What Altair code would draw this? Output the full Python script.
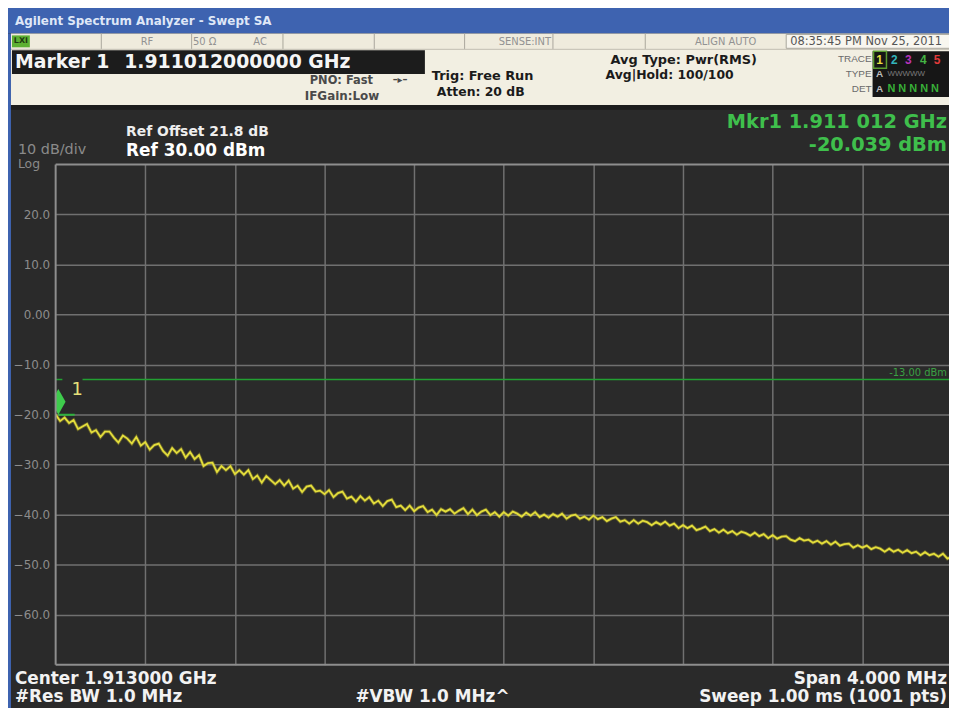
import altair as alt
import pandas as pd

# ---------------- data ----------------
# trace, every 0.02 MHz from 1911.000 to 1915.000 MHz (dBm)
trace_dbm = [
    -20.0, -21.3, -20.6, -21.7, -21.1, -22.9, -22.4, -21.9, -23.6, -23.1,
    -24.5, -23.4, -23.4, -24.6, -25.6, -24.2, -24.8, -25.8, -24.5, -26.2,
    -25.5, -27.0, -26.1, -25.8, -27.3, -28.2, -26.7, -27.7, -26.9, -28.6,
    -27.5, -28.9, -28.1, -30.3, -29.7, -29.6, -31.5, -30.3, -31.1, -30.3,
    -31.9, -31.1, -32.0, -31.1, -32.9, -32.2, -33.6, -32.3, -33.1, -33.9,
    -33.1, -34.2, -33.2, -34.8, -34.2, -35.5, -34.4, -34.2, -35.4, -35.2,
    -35.9, -35.1, -36.5, -35.7, -35.4, -36.8, -36.4, -37.4, -36.3, -37.2,
    -36.5, -37.8, -37.2, -38.3, -37.3, -37.0, -38.5, -38.2, -39.1, -38.2,
    -39.3, -38.6, -38.3, -39.5, -39.0, -40.1, -38.9, -39.4, -38.9, -39.8,
    -39.2, -38.7, -39.9, -39.0, -40.1, -39.4, -39.0, -40.1, -39.5, -40.4,
    -39.5, -40.2, -39.4, -39.8, -40.4, -39.6, -40.2, -39.5, -40.5, -40.0,
    -40.6, -39.9, -40.4, -39.8, -40.8, -40.2, -40.0, -40.8, -40.4, -41.0,
    -40.2, -40.9, -40.5, -41.3, -40.8, -40.5, -41.4, -41.1, -41.8, -41.1,
    -41.8, -41.2, -41.5, -42.1, -41.5, -42.0, -41.4, -42.2, -41.8, -42.7,
    -42.1, -42.7, -42.2, -43.1, -42.8, -42.4, -43.3, -42.9, -43.6, -43.0,
    -43.7, -43.3, -44.0, -43.4, -43.7, -44.2, -43.6, -44.3, -43.9, -44.7,
    -44.1, -44.8, -44.4, -44.3, -45.0, -45.3, -44.7, -45.2, -45.0, -45.6,
    -45.2, -45.8, -45.3, -46.0, -45.4, -46.2, -45.9, -45.8, -46.6, -46.1,
    -46.6, -46.2, -46.9, -46.5, -46.8, -47.4, -46.8, -47.4, -47.0, -47.6,
    -47.1, -47.7, -47.4, -48.1, -47.5, -48.1, -47.8, -48.4, -47.8, -48.8,
    -48.4,
]
start_mhz = 1911.0
step_mhz = 0.02
freq_mhz = [round(start_mhz + step_mhz * i, 3) for i in range(len(trace_dbm))]

y_ticks = [20, 10, 0, -10, -20, -30, -40, -50, -60]
x_grid = [1911.4, 1911.8, 1912.2, 1912.6, 1913.0, 1913.4, 1913.8, 1914.2, 1914.6]

marker_freq = [1911.012]
marker_dbm = [-20.039]
marker_line_end = [1911.085]

limit_level = [-13.0, -13.0]
limit_from = [1911.0, 1911.12]
limit_to = [1911.03, 1915.0]

# ---------------- layout helpers ----------------
X0, Y0 = 56, 163          # page position of plot origin
PW, PH = 900, 504


def px(X):
    return X - X0


def py(Y):
    return Y - Y0


def one():
    return alt.Data(values=[{"k": 0}])


def rect(X1, Y1, X2, Y2, fill, stroke=None, sw=1):
    kw = {}
    if stroke is not None:
        kw["stroke"] = stroke
        kw["strokeWidth"] = sw
    if fill is None:
        kw["fillOpacity"] = 0
        kw["fill"] = "#000000"
    else:
        kw["fill"] = fill
    return alt.Chart(one()).mark_rect(**kw).encode(
        x=alt.value(px(X1)), x2=alt.value(px(X2)),
        y=alt.value(py(Y1)), y2=alt.value(py(Y2)))


def vline(X, Y1, Y2, color, w=1):
    return alt.Chart(one()).mark_rule(color=color, strokeWidth=w).encode(
        x=alt.value(px(X)), y=alt.value(py(Y1)), y2=alt.value(py(Y2)))


def hline(Y, X1, X2, color, w=1):
    return alt.Chart(one()).mark_rule(color=color, strokeWidth=w).encode(
        y=alt.value(py(Y)), x=alt.value(px(X1)), x2=alt.value(px(X2)))


def txt(s, X, Y, size, color, weight="normal", align="left", font="DejaVu Sans"):
    return alt.Chart(one()).mark_text(
        text=s, font=font, fontSize=size, fontWeight=weight, color=color,
        align=align, baseline="middle").encode(
        x=alt.value(px(X)), y=alt.value(py(Y)))


BLUE = "#3e63b0"
BEIGE = "#f2efe2"
DARK = "#2a2a2a"
GRID = "#707070"
FRAME = "#8e8e8e"
GREEN = "#3fbf4c"
YELLOW = "#e4de3c"
HDR = "#4a4a4a"

layers = []

# ---- header ----
layers += [
    rect(0, 0, 960, 31, BLUE),
    txt("Agilent Spectrum Analyzer - Swept SA", 15, 19, 12, "#dfe7f7", "bold"),
    rect(0, 31, 11, 720, BLUE),
    rect(11, 31, 960, 47, "#efebdd"),
    rect(11, 47, 960, 103, BEIGE),
    rect(11, 103, 960, 108, "#1d1d1d"),
]
for sx in [102, 193, 285, 377, 468, 557, 650]:
    layers.append(vline(sx, 31, 47, "#a9a69c", 1))
layers += [
    hline(47, 11, 960, "#c9c5b8", 1),
    rect(12, 33, 30, 45, "#5cb032"),
    txt("LXI", 21, 39, 8, "#1f3a10", "bold", "center"),
    txt("RF", 148, 40, 10, "#929292", align="center"),
    txt("50 Ω", 206, 40, 10, "#929292", align="center"),
    txt("AC", 262, 40, 10, "#929292", align="center"),
    txt("SENSE:INT", 555, 40, 10, "#929292", align="right"),
    txt("ALIGN AUTO", 731, 40, 10, "#929292", align="center"),
    rect(792, 32, 960, 46, "#f8f6ef", "#a9a69c", 1),
    txt("08:35:45 PM Nov 25, 2011", 796, 40, 11.5, "#555555"),
    rect(12, 48, 428, 72, "#1c1c1c"),
    txt("Marker 1", 15, 60, 19, "#f5f5f5", "bold"),
    txt("1.911012000000 GHz", 125, 60, 19, "#f5f5f5", "bold"),
    txt("PNO: Fast", 312, 79, 11.5, HDR, "bold"),
    txt("–▸–", 403, 78, 10, HDR, "bold", "center"),
    txt("IFGain:Low", 307, 94, 12, HDR, "bold"),
    txt("Trig: Free Run", 435, 74, 13, "#1b1b1b", "bold"),
    txt("Atten: 20 dB", 440, 90, 12.5, "#1b1b1b", "bold"),
    txt("Avg Type: Pwr(RMS)", 615, 58, 13, "#1b1b1b", "bold"),
    txt("Avg|Hold: 100/100", 610, 73, 12.5, "#1b1b1b", "bold"),
    txt("TRACE", 878, 57, 10, "#6a6a6a", align="right", font="Liberation Sans"),
    txt("TYPE", 878, 72, 10, "#6a6a6a", align="right", font="Liberation Sans"),
    txt("DET", 878, 87, 10, "#6a6a6a", align="right", font="Liberation Sans"),
    rect(879, 49, 960, 95, "#161616"),
    rect(880, 49, 893, 66, None, "#5c9c30", 1.5),
]
for ch, cx, col in [("1", 886, "#e6df40"), ("2", 901, "#33b4bc"), ("3", 915, "#b834b8"),
                    ("4", 930, "#44b444"), ("5", 944, "#e03a3a")]:
    layers.append(txt(ch, cx, 58, 12, col, "bold", "center", "Liberation Sans"))
layers += [
    txt("A", 886, 72, 10, "#bdbdbd", "bold", "center", "Liberation Sans"),
    txt("WWWWW", 894, 72, 8, "#7a7a7a", align="left", font="Liberation Sans"),
    txt("A", 886, 87, 10, "#bdbdbd", "bold", "center", "Liberation Sans"),
    txt("N N N N N", 894, 87, 11, "#38b038", "bold", "left", "Liberation Sans"),
]

# ---- plot annotations ----
layers += [
    txt("Ref Offset 21.8 dB", 127, 130, 14, "#eeeeee", "bold"),
    txt("Ref 30.00 dBm", 127, 149, 17, "#ffffff", "bold"),
    txt("10 dB/div", 18, 148, 14.5, "#8a8a8a"),
    txt("Log", 18, 163, 12.5, "#8a8a8a"),
    txt("Mkr1 1.911 012 GHz", 954, 120, 19.5, GREEN, "bold", "right"),
    txt("-20.039 dBm", 954, 143, 19.5, GREEN, "bold", "right"),
    txt("Center 1.913000 GHz", 15, 681, 17, "#f2f2f2", "bold"),
    txt("#Res BW 1.0 MHz", 15, 700, 17, "#f2f2f2", "bold"),
    txt("#VBW 1.0 MHz^", 358, 700, 17, "#f2f2f2", "bold"),
    txt("Span 4.000 MHz", 954, 681, 17, "#f2f2f2", "bold", "right"),
    txt("Sweep  1.00 ms (1001 pts)", 954, 700, 17, "#f2f2f2", "bold", "right"),
    txt("-13.00 dBm", 954, 373, 10, "#3aa043", align="right"),
]

# frame
layers += [
    vline(56, 163, 667, FRAME, 2),
    hline(163, 56, 960, FRAME, 2),
    hline(667, 56, 960, FRAME, 2),
]

# ---- data layers ----
xscale = alt.Scale(domain=[1911.0, 1914.987], nice=False, zero=False)
yscale = alt.Scale(domain=[-70, 30], nice=False, zero=False)
AX_X = alt.Axis(values=x_grid, labels=False, ticks=False, domain=False, title=None,
                grid=True, gridColor=GRID, gridWidth=1.5, gridOpacity=1)
AX_Y = alt.Axis(values=y_ticks, ticks=False, domain=False, title=None, grid=True,
                gridColor=GRID, gridWidth=1.5, gridOpacity=1, labelPadding=6,
                labelColor="#8d8d8d", labelFont="DejaVu Sans", labelFontSize=12,
                labelExpr="datum.value == 0 ? '0.00' : format(datum.value, '.1f')")

trace_df = pd.DataFrame({"f": freq_mhz, "p": trace_dbm})
base = alt.Chart(trace_df).encode(
    x=alt.X("f:Q", scale=xscale, axis=AX_X),
    y=alt.Y("p:Q", scale=yscale, axis=AX_Y),
)
trace_glow = base.mark_line(color="#a8a02a", strokeWidth=3.5, opacity=0.45, clip=True)
trace = base.mark_line(color=YELLOW, strokeWidth=1.8, clip=True)

limit_df = pd.DataFrame({"f": limit_from, "f2": limit_to, "p": limit_level})
limit = alt.Chart(limit_df).mark_rule(color="#22a032", strokeWidth=1.6, clip=True).encode(
    x=alt.X("f:Q", scale=xscale, axis=AX_X), x2="f2:Q",
    y=alt.Y("p:Q", scale=yscale, axis=AX_Y))

mk_df = pd.DataFrame({"f": marker_freq, "p": marker_dbm, "f2": marker_line_end})
mk_line = alt.Chart(mk_df).mark_rule(color="#2fb23e", strokeWidth=2, clip=True).encode(
    x=alt.X("f:Q", scale=xscale, axis=AX_X), x2="f2:Q",
    y=alt.Y("p:Q", scale=yscale, axis=AX_Y))
mk_pt = alt.Chart(mk_df).mark_point(
    shape="M0,-2L0.56,-1L0,0L-0.56,-1Z", size=676, filled=True, opacity=1,
    color="#3ecb4c", clip=True).encode(
    x=alt.X("f:Q", scale=xscale, axis=AX_X),
    y=alt.Y("p:Q", scale=yscale, axis=AX_Y))
mk_lbl = txt("1", 72, 390, 18, "#e6e07a")

chart = alt.layer(trace_glow, trace, limit, mk_line, mk_pt, *layers, mk_lbl).properties(
    width=PW, height=PH,
    padding={"left": 48, "top": 155, "right": 0, "bottom": 41},
    autosize=alt.AutoSizeParams(type="none"),
    background=DARK,
).configure_view(stroke=None, fill=DARK)

chart.save("out.html", embed_options={"renderer": "svg", "actions": False})
